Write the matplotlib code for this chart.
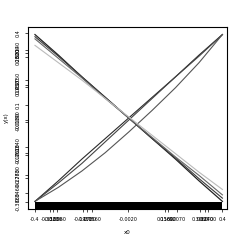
import matplotlib
matplotlib.use("Agg")
import matplotlib.pyplot as plt

# valeurs
x = [-0.4, -0.3, -0.2, -0.1, 0.0, 0.1, 0.2, 0.3, 0.4]

inc_1 = [-0.385, -0.29, -0.19, -0.095, 0.0, 0.095, 0.19, 0.29, 0.385]
inc_2 = [-0.385, -0.30, -0.21, -0.11, -0.01, 0.09, 0.19, 0.285, 0.385]
inc_3 = [-0.385, -0.32, -0.245, -0.16, -0.065, 0.035, 0.14, 0.255, 0.385]

dec_1 = [0.385, 0.29, 0.19, 0.095, 0.0, -0.095, -0.19, -0.29, -0.385]
dec_2 = [0.375, 0.285, 0.19, 0.095, 0.0, -0.095, -0.185, -0.28, -0.37]
dec_3 = [0.365, 0.275, 0.185, 0.09, 0.0, -0.09, -0.18, -0.265, -0.355]
dec_4 = [0.335, 0.255, 0.175, 0.09, 0.005, -0.08, -0.165, -0.25, -0.33]

x_ticks = [-0.4, -0.336, -0.323, -0.306, -0.195, -0.178, -0.156, -0.002,
           0.156, 0.169, 0.207, 0.306, 0.327, 0.340, 0.4]
x_labels = ["-0.4", "-0.3360", "-0.3230", "-0.3060", "-0.1950", "-0.1780",
            "-0.1560", "-0.0020", "0.1560", "0.1690", "0.2070", "0.3060",
            "0.3270", "0.3400", "0.4"]

y_ticks = [0.392, 0.314, 0.30, 0.282, 0.175, 0.152, 0.143, 0.06, -0.009,
           -0.018, -0.134, -0.161, -0.171, -0.263, -0.277, -0.346, -0.388]
y_labels = ["0.4", "0.3140", "0.3000", "0.2820", "0.1750", "0.1520",
            "0.1430", "0.1", "-0.0090", "-0.0180", "-0.1340", "-0.1610",
            "-0.1710", "-0.2630", "-0.2770", "-0.3460", "-0.3880"]

rug_top = -0.39

fig = plt.figure(figsize=(2.45, 2.45), dpi=100)
ax = fig.add_axes([0.114, 0.147, 0.813, 0.743])

for ys, c, lw in [(inc_1, "#2a2a2a", 0.8), (inc_2, "#444444", 0.8),
                  (inc_3, "#555555", 0.8), (dec_1, "#222222", 0.9),
                  (dec_2, "#3a3a3a", 0.8), (dec_3, "#666666", 0.8),
                  (dec_4, "#bbbbbb", 0.8)]:
    ax.plot(x, ys, color=c, linewidth=lw)

# rug
ax.fill_between([x[0], x[-1]], -0.43, rug_top, color="black", linewidth=0)

ax.set_xlim(-0.43, 0.42)
ax.set_ylim(-0.42, 0.42)

ax.set_xticks(x_ticks)
ax.set_xticklabels(x_labels, fontsize=3.5)
ax.set_yticks(y_ticks)
ax.set_yticklabels(y_labels, fontsize=3.5, rotation=90, va="center")
ax.tick_params(length=2.5, width=0.5, pad=3)

ax.set_xlabel("x0", fontsize=4, labelpad=6)
ax.set_ylabel("y(x)", fontsize=4, labelpad=5)

for s in ax.spines.values():
    s.set_linewidth(0.8)

plt.savefig("out.png", dpi=100)
